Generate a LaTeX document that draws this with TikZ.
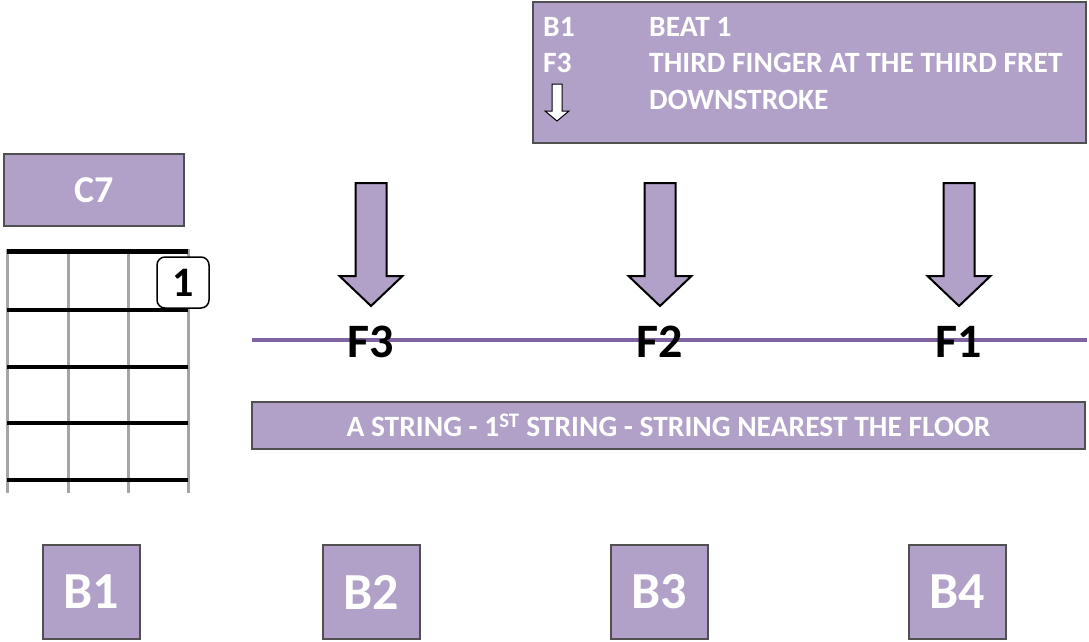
\documentclass[tikz,border=0pt]{standalone}
\usepackage{fontspec}
\setmainfont{Carlito}
\definecolor{lav}{RGB}{177,160,199}
\definecolor{lavline}{RGB}{128,100,162}
\definecolor{edge}{RGB}{80,80,80}
\definecolor{fretgray}{RGB}{165,165,165}
\begin{document}
\begin{tikzpicture}[x=1pt,y=-1pt,
  box/.style={draw=edge,line width=1.6pt,fill=lav,inner sep=0pt,text=white,font=\bfseries},
  beatbox/.style={box,minimum width=97pt,minimum height=94pt,font=\fontsize{52}{52}\selectfont\bfseries},
  legtxt/.style={anchor=base west,inner sep=0pt,text=white,font=\fontsize{29.5}{29.5}\selectfont\bfseries},
  fing/.style={anchor=base,inner sep=0pt,text=black,font=\fontsize{48}{48}\selectfont\bfseries},
  fret/.style={line width=4pt,black},
  strg/.style={line width=3pt,fretgray},
  pics/blockarrow/.style={code={
    \draw[black,line width=2pt,fill=lav,line join=miter]
      (-15.5,0) -- (15.5,0) -- (15.5,93) -- (31.5,93) -- (0,123) -- (-31.5,93) -- (-15.5,93) -- cycle;}}
]
\useasboundingbox (0,0) rectangle (1089,642);

% legend
\node[box,minimum width=553pt,minimum height=141pt] (legend) at (809.5,72.5) {};
\node[legtxt] (l1a) at (543,37) {B1};
\node[legtxt] (l1b) at (649,37) {BEAT 1};
\node[legtxt] (l2a) at (543,73) {F3};
\node[legtxt] (l2b) at (649,73) {THIRD FINGER AT THE THIRD FRET};
\node[legtxt] (l3b) at (649,109) {DOWNSTROKE};
\draw[black,line width=1pt,fill=white,line join=miter]
  (552,84) -- (562,84) -- (562,111) -- (569,111) -- (557,121) -- (545,111) -- (552,111) -- cycle;

% chord name
\node[box,minimum width=180pt,minimum height=72pt,font=\fontsize{38}{38}\selectfont\bfseries] (c7) at (94,190) {C7};

% fretboard
\foreach \x in {7,68,128,188} \draw[strg] (\x,249) -- (\x,493);
\draw[line width=5pt,black] (7,251) -- (188,251);
\foreach \y in {310,367,423,480} \draw[fret] (7,\y) -- (188,\y);
\node[draw=black,line width=1.5pt,fill=white,rounded corners=8pt,minimum width=52pt,minimum height=51pt,inner sep=0pt,font=\fontsize{42}{42}\selectfont\bfseries] (dot) at (183,282.5) {1};

% strum arrows
\pic at (371,183) {blockarrow};
\pic at (660,183) {blockarrow};
\pic at (959,183) {blockarrow};

% string line
\coordinate (sl) at (252,340);
\coordinate (sr) at (1087,340);
\draw[lavline,line width=4pt] (sl) -- (sr);
\node[fing] (f3) at (371,357) {F3};
\node[fing] (f2) at (660,357) {F2};
\node[fing] (f1) at (959,357) {F1};

% string label
\node[box,minimum width=833pt,minimum height=47pt,font=\fontsize{29.5}{29.5}\selectfont\bfseries] (astr) at (668.5,425.5) {A STRING - 1\textsuperscript{ST} STRING - STRING NEAREST THE FLOOR};

% beats
\node[beatbox] (b1) at (91.5,592) {B1};
\node[beatbox] (b2) at (371.5,592) {B2};
\node[beatbox] (b3) at (659.5,592) {B3};
\node[beatbox] (b4) at (957.5,592) {B4};
\end{tikzpicture}
\end{document}
